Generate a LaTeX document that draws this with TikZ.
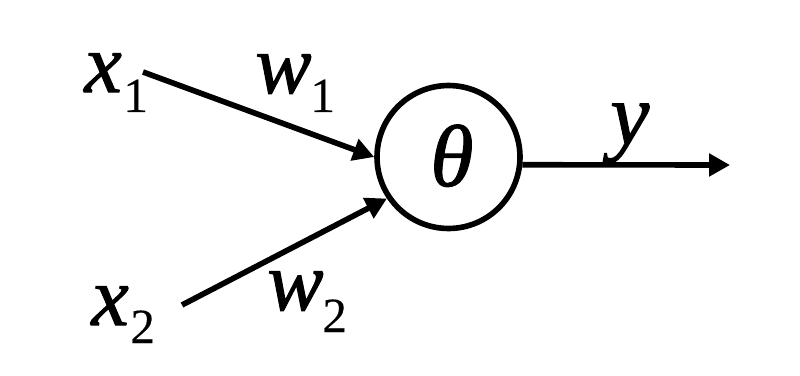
\documentclass[tikz,border=0pt]{standalone}
\usepackage{fontspec}
\setmainfont{Liberation Serif}
\newfontfamily\itf[FakeBold=1.2]{Liberation Serif Italic}
\newfontfamily\subf[FakeBold=0.3]{Liberation Serif}
\usetikzlibrary{arrows.meta}
\tikzset{
  lbl/.style={inner sep=0pt, anchor=base west, font=\fontsize{48}{48}\itf},
  lbls/.style={inner sep=0pt, anchor=base west, font=\fontsize{50}{50}\itf},
  sub/.style={inner sep=0pt, anchor=base west, font=\fontsize{28}{28}\subf},
  conn/.style={line width=3.2pt, -{Triangle[length=0.42cm,width=0.44cm]}},
  neuron/.style={circle, draw, line width=3.2pt, minimum size=2.86cm, inner sep=0pt}
}
\begin{document}
\begin{tikzpicture}[x=0.02cm,y=-0.02cm]
\useasboundingbox (0,0) rectangle (800,375);
\node[neuron] (th) at (448.5,157) {};
\node[lbls] (tht) at (430,186) {θ};
\node[lbl] (x1) at (84,92) {x};
\node[sub] (x1s) at (123,112) {1};
\node[lbl] (w1) at (255,93) {w};
\node[sub] (w1s) at (310,112) {1};
\node[lbl] (x2) at (91,325) {x};
\node[sub] (x2s) at (130,343) {2};
\node[lbl] (w2) at (267,310) {w};
\node[sub] (w2s) at (322,332) {2};
\node[lbls] (y) at (610,144) {y};
\coordinate (s1) at (143,72);
\coordinate (s2) at (182,305);
\coordinate (out) at (730,165);
\draw[conn] (s1) -- (th.west);
\draw[conn] (s2) -- (th.214);
\draw[conn] (th.-6) -- (out);
\end{tikzpicture}
\end{document}
